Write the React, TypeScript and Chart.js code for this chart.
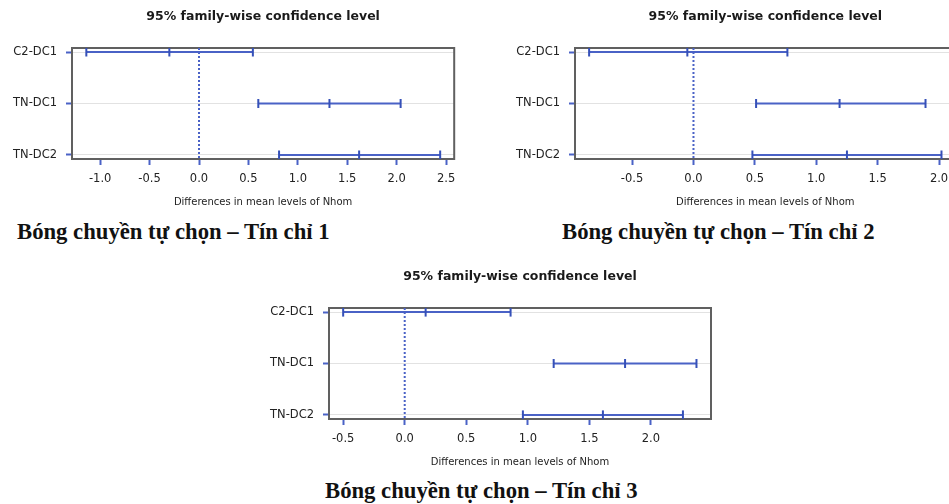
import React, { useEffect, useRef } from 'react';
import { Chart, registerables } from 'chart.js';

Chart.register(...registerables);

// ---- data ----
const ROWS = ['C2-DC1', 'TN-DC1', 'TN-DC2'];
const Y_LIM = [-0.08, 2.08];

const P1_LWR = [-1.14, 0.6, 0.81];
const P1_DIFF = [-0.3, 1.32, 1.62];
const P1_UPR = [0.545, 2.04, 2.44];
const P1_XTICKS = [-1.0, -0.5, 0.0, 0.5, 1.0, 1.5, 2.0, 2.5];
const P1_XLIM = [-1.285, 2.582];

const P2_LWR = [-0.85, 0.51, 0.48];
const P2_DIFF = [-0.05, 1.19, 1.25];
const P2_UPR = [0.765, 1.89, 2.02];
const P2_XTICKS = [-0.5, 0.0, 0.5, 1.0, 1.5, 2.0];
const P2_XLIM = [-0.965, 2.135];

const P3_LWR = [-0.5, 1.21, 0.96];
const P3_DIFF = [0.17, 1.79, 1.61];
const P3_UPR = [0.86, 2.37, 2.26];
const P3_XTICKS = [-0.5, 0.0, 0.5, 1.0, 1.5, 2.0];
const P3_XLIM = [-0.615, 2.488];

const TITLE = '95% family-wise confidence level';
const XLABEL = 'Differences in mean levels of Nhom';
const CAPTIONS = [
  'Bóng chuyền tự chọn – Tín chỉ 1',
  'Bóng chuyền tự chọn – Tín chỉ 2',
  'Bóng chuyền tự chọn – Tín chỉ 3',
];

const BLUE = '#4a62c6';
const CAP_BLUE = '#3550b8';
const FONT = '"DejaVu Sans", sans-serif';

const boxPlugin = {
  id: 'rbox',
  beforeDatasetsDraw(chart: any) {
    const { ctx, chartArea: a } = chart;
    ctx.save();
    ctx.strokeStyle = '#606060';
    ctx.lineWidth = 2;
    ctx.strokeRect(a.left, a.top, a.right - a.left, a.bottom - a.top);
    ctx.restore();
  },
};

type PanelProps = {
  lwr: number[];
  diff: number[];
  upr: number[];
  xticks: number[];
  xlim: number[];
  left: number;
  top: number;
  width: number;
  yAxisWidth: number;
  padRight: number;
};

const H = 215;

function Panel(p: PanelProps) {
  const ref = useRef<HTMLCanvasElement>(null);
  useEffect(() => {
    if (!ref.current) return;
    const datasets: any[] = [
      {
        data: [
          { x: 0, y: Y_LIM[0] },
          { x: 0, y: Y_LIM[1] },
        ],
        showLine: true,
        borderColor: BLUE,
        borderWidth: 2,
        borderDash: [2, 2],
        pointRadius: 0,
        pointHoverRadius: 0,
      },
    ];
    ROWS.forEach((_, i) => {
      datasets.push({
        data: [
          { x: p.lwr[i], y: i },
          { x: p.diff[i], y: i },
          { x: p.upr[i], y: i },
        ],
        showLine: true,
        borderColor: BLUE,
        borderWidth: 2,
        pointStyle: 'line',
        rotation: 90,
        pointRadius: 4.5,
        pointHoverRadius: 4.5,
        pointBorderColor: CAP_BLUE,
        pointBorderWidth: 2,
        pointBackgroundColor: CAP_BLUE,
      });
    });
    const chart = new Chart(ref.current, {
      type: 'scatter',
      data: { datasets },
      plugins: [boxPlugin],
      options: {
        animation: false,
        responsive: false,
        devicePixelRatio: 1,
        events: [],
        layout: { padding: { left: 0, right: p.padRight, top: 0, bottom: 0 } },
        plugins: {
          legend: { display: false },
          tooltip: { enabled: false },
          title: {
            display: true,
            text: TITLE,
            fullSize: false,
            color: '#1a1a1a',
            font: { family: FONT, size: 12.5, weight: 'bold' },
            padding: { top: 9, bottom: 24 },
          },
        },
        scales: {
          x: {
            type: 'linear',
            min: p.xlim[0],
            max: p.xlim[1],
            afterBuildTicks: (s: any) => {
              s.ticks = p.xticks.map((v) => ({ value: v }));
            },
            afterFit: (s: any) => {
              s.height = H - 159;
            },
            ticks: {
              autoSkip: false,
              maxRotation: 0,
              padding: 7,
              color: '#222',
              font: { family: FONT, size: 11.5 },
              callback: (v: any) => Number(v).toFixed(1),
            },
            grid: {
              drawOnChartArea: false,
              drawTicks: true,
              tickLength: 6,
              tickWidth: 2,
              tickColor: BLUE,
            },
            border: { display: false },
            title: {
              display: true,
              text: XLABEL,
              color: '#222',
              font: { family: FONT, size: 10 },
              padding: { top: 0, bottom: 7 },
            },
          },
          y: {
            type: 'linear',
            min: Y_LIM[0],
            max: Y_LIM[1],
            reverse: true,
            afterBuildTicks: (s: any) => {
              s.ticks = ROWS.map((_, i) => ({ value: i }));
            },
            afterFit: (s: any) => {
              s.width = p.yAxisWidth;
            },
            ticks: {
              autoSkip: false,
              padding: 9,
              color: '#222',
              font: { family: FONT, size: 11.5 },
              callback: (v: any) => ROWS[Math.round(Number(v))] ?? '',
            },
            grid: {
              color: '#e2e2e2',
              lineWidth: 1,
              drawTicks: true,
              tickLength: 6,
              tickWidth: 2,
              tickColor: BLUE,
            },
            border: { display: false },
          },
        },
      } as any,
    });
    return () => chart.destroy();
  }, []);
  return (
    <canvas
      ref={ref}
      width={p.width}
      height={H}
      style={{ position: 'absolute', left: p.left, top: p.top, width: p.width, height: H }}
    />
  );
}

const captionStyle: React.CSSProperties = {
  position: 'absolute',
  fontFamily: '"Liberation Serif", "Times New Roman", serif',
  fontWeight: 'bold',
  fontSize: 22.7,
  lineHeight: '26px',
  color: '#111',
  whiteSpace: 'nowrap',
};

export default function App() {
  return (
    <div
      style={{
        position: 'absolute',
        left: 0,
        top: 0,
        width: 949,
        height: 504,
        overflow: 'hidden',
        background: '#fff',
      }}
    >
      <Panel lwr={P1_LWR} diff={P1_DIFF} upr={P1_UPR} xticks={P1_XTICKS} xlim={P1_XLIM}
        left={0} top={0} width={475} yAxisWidth={72} padRight={20.8} />
      <Panel lwr={P2_LWR} diff={P2_DIFF} upr={P2_UPR} xticks={P2_XTICKS} xlim={P2_XLIM}
        left={475} top={0} width={510} yAxisWidth={100} padRight={29.4} />
      <Panel lwr={P3_LWR} diff={P3_DIFF} upr={P3_UPR} xticks={P3_XTICKS} xlim={P3_XLIM}
        left={220} top={260} width={520} yAxisWidth={109} padRight={29} />
      <div style={{ ...captionStyle, left: 17, top: 219 }}>{CAPTIONS[0]}</div>
      <div style={{ ...captionStyle, left: 562, top: 219 }}>{CAPTIONS[1]}</div>
      <div style={{ ...captionStyle, left: 325, top: 478 }}>{CAPTIONS[2]}</div>
    </div>
  );
}
